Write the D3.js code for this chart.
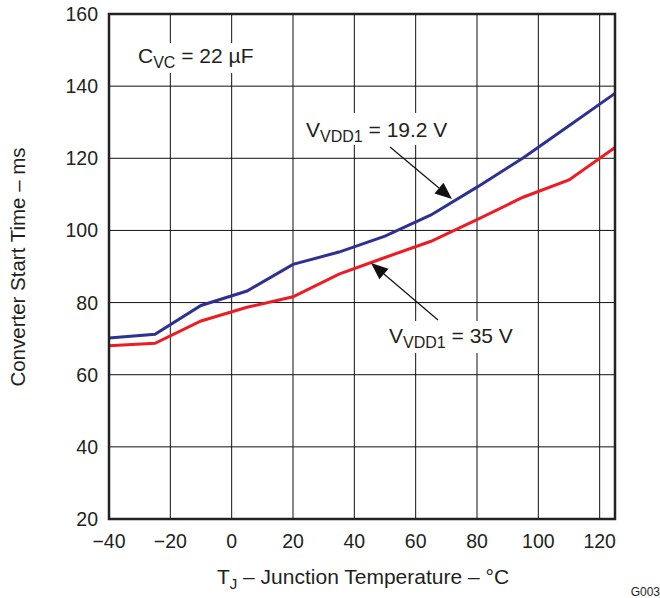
<!DOCTYPE html>
<html><head><meta charset="utf-8">
<script src="https://cdn.jsdelivr.net/npm/d3@7/dist/d3.min.js"></script>
<style>
body{margin:0;background:#fff;}
text{font-family:"Liberation Sans",Arial,Helvetica,sans-serif;fill:#231f20;}
</style></head><body>
<svg id="chart" width="660" height="598"></svg>
<script>
const temps = [-40, -25, -10, 5, 20, 35, 50, 65, 80, 95, 110, 125];
const v192 = [70.2, 71.2, 79.2, 83.2, 90.6, 94.0, 98.4, 104.3, 112.0, 120.1, 129.0, 138.0];
const v35  = [68.0, 68.7, 74.9, 78.7, 81.6, 87.9, 92.5, 97.0, 103.0, 109.2, 114.0, 123.0];
const xTicks = [-40, -20, 0, 20, 40, 60, 80, 100, 120];
const yTicks = [20, 40, 60, 80, 100, 120, 140, 160];

const svg = d3.select("#chart");
const L = 109, R = 615, T = 14, B = 519;
const x = d3.scaleLinear().domain([-40, 125]).range([L, R]);
const y = d3.scaleLinear().domain([20, 160]).range([B, T]);

// grid
const g = svg.append("g");
g.selectAll(".vg").data(xTicks).join("line")
  .attr("x1", d => x(d)).attr("x2", d => x(d)).attr("y1", T).attr("y2", B)
  .attr("stroke", "#111").attr("stroke-width", 1);
g.selectAll(".hg").data(yTicks).join("line")
  .attr("x1", L).attr("x2", R).attr("y1", d => y(d)).attr("y2", d => y(d))
  .attr("stroke", "#111").attr("stroke-width", 1);

// white boxes behind labels inside plot
svg.append("rect").attr("x", 132).attr("y", 43).attr("width", 134).attr("height", 30).attr("fill", "#fff");
svg.append("rect").attr("x", 300).attr("y", 113).attr("width", 174).attr("height", 32).attr("fill", "#fff");
svg.append("rect").attr("x", 383).attr("y", 321).attr("width", 146).attr("height", 32).attr("fill", "#fff");

// lines
const line = d3.line().x(d => x(d[0])).y(d => y(d[1]));
svg.append("path").datum(temps.map((t, i) => [t, v35[i]]))
  .attr("d", line).attr("fill", "none").attr("stroke", "#ed1c24").attr("stroke-width", 3);
svg.append("path").datum(temps.map((t, i) => [t, v192[i]]))
  .attr("d", line).attr("fill", "none").attr("stroke", "#2e3192").attr("stroke-width", 3);

// frame
svg.append("rect").attr("x", L).attr("y", T).attr("width", R - L).attr("height", B - T)
  .attr("fill", "none").attr("stroke", "#222").attr("stroke-width", 2.5);

// axes labels
svg.selectAll(".xt").data(xTicks).join("text")
  .attr("x", d => x(d)).attr("y", 548).attr("text-anchor", "middle")
  .attr("font-size", 19.5).text(d => d < 0 ? "\u2212" + Math.abs(d) : d);
svg.selectAll(".yt").data(yTicks).join("text")
  .attr("x", 98).attr("y", d => y(d) + 7).attr("text-anchor", "end")
  .attr("font-size", 19.5).text(d => d);

// axis titles
const xt = svg.append("text").attr("x", 363).attr("y", 584).attr("text-anchor", "middle").attr("font-size", 21);
xt.append("tspan").text("T");
xt.append("tspan").attr("font-size", 15).attr("dy", 5).text("J");
xt.append("tspan").attr("dy", -5).text(" \u2013 Junction Temperature \u2013 \u00B0C");

svg.append("text").attr("transform", "translate(25,267) rotate(-90)")
  .attr("text-anchor", "middle").attr("font-size", 20.5).text("Converter Start Time \u2013 ms");

svg.append("text").attr("x", 660).attr("y", 596).attr("text-anchor", "end").attr("font-size", 12).text("G003");

// annotations
function subLabel(xp, yp, main, sub, rest) {
  const t = svg.append("text").attr("x", xp).attr("y", yp).attr("font-size", 21);
  t.append("tspan").text(main);
  t.append("tspan").attr("font-size", 16).attr("dy", 5).text(sub);
  t.append("tspan").attr("dy", -5).text(rest);
}
subLabel(138, 63, "C", "VC", " = 22 \u00B5F");
subLabel(306, 137, "V", "VDD1", " = 19.2 V");
subLabel(389, 343, "V", "VDD1", " = 35 V");

// arrows
function arrow(x1, y1, x2, y2) {
  const ang = Math.atan2(y2 - y1, x2 - x1);
  const len = 17, hw = 7;
  const bx = x2 - len * Math.cos(ang), by = y2 - len * Math.sin(ang);
  svg.append("line").attr("x1", x1).attr("y1", y1).attr("x2", bx).attr("y2", by)
    .attr("stroke", "#111").attr("stroke-width", 1.2);
  const px = -Math.sin(ang) * hw, py = Math.cos(ang) * hw;
  svg.append("path").attr("d", `M${x2},${y2}L${bx + px},${by + py}L${bx - px},${by - py}Z`).attr("fill", "#111");
}
arrow(390, 147, 452, 199);
arrow(438, 320, 371, 263);
</script>
</body></html>
